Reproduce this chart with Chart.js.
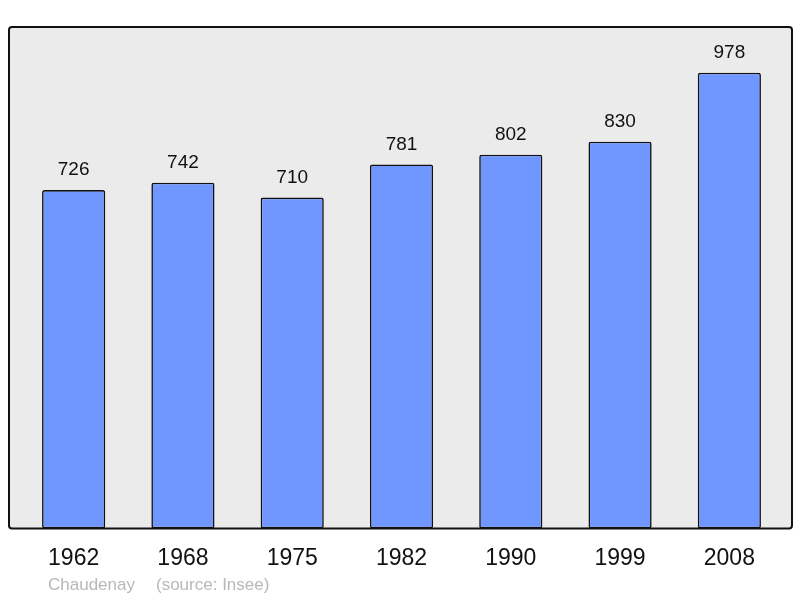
<!DOCTYPE html>
<html><head><meta charset="utf-8">
<script src="https://cdn.jsdelivr.net/npm/chart.js@4/dist/chart.umd.min.js"></script>
<style>html,body{margin:0;padding:0;background:#fff}#w{width:800px;height:598px}</style>
</head><body><div id="w"><canvas id="c"></canvas></div>
<script>
const years = ['1962','1968','1975','1982','1990','1999','2008'];
const population = [726, 742, 710, 781, 802, 830, 978];
const footerName = 'Chaudenay';
const footerSource = '(source: Insee)';

const framePlugin = {
  id: 'frame',
  beforeDraw(chart) {
    const {ctx, chartArea: a} = chart;
    ctx.save();
    const x = a.left - 10, y = a.top, w = a.right + 8 - x, h = a.bottom - a.top;
    ctx.beginPath();
    ctx.roundRect(x, y, w, h, 3);
    ctx.fillStyle = '#ebebeb';
    ctx.fill();
    ctx.restore();
  },
  afterDatasetsDraw(chart) {
    const {ctx, chartArea: a} = chart;
    ctx.save();
    const x = a.left - 10, y = a.top, w = a.right + 8 - x, h = a.bottom - a.top;
    ctx.beginPath();
    ctx.roundRect(x, y, w, h, 3);
    ctx.lineWidth = 2;
    ctx.strokeStyle = '#111';
    ctx.stroke();
    ctx.font = '19px "Liberation Sans", Arial, sans-serif';
    ctx.fillStyle = '#111';
    ctx.textAlign = 'center';
    ctx.textBaseline = 'middle';
    const meta = chart.getDatasetMeta(0);
    meta.data.forEach((bar, i) => {
      ctx.fillText(String(chart.data.datasets[0].data[i]), bar.x, bar.y - 20);
    });
    ctx.font = '17px "Liberation Sans", Arial, sans-serif';
    ctx.fillStyle = '#b8b8b8';
    ctx.textAlign = 'left';
    ctx.fillText(footerName, 48, 585);
    ctx.fillText(footerSource, 156, 585);
    ctx.restore();
  }
};

new Chart(document.getElementById('c'), {
  type: 'bar',
  data: {
    labels: years,
    datasets: [{
      data: population,
      backgroundColor: '#7096ff',
      borderColor: '#111',
      borderWidth: 1.6,
      borderRadius: 2,
      borderSkipped: false,
      barPercentage: 0.578,
      categoryPercentage: 1
    }]
  },
  options: {
    responsive: true,
    maintainAspectRatio: false,
    animation: false,
    devicePixelRatio: 1,
    layout: { padding: { left: 19, right: 16, top: 27, bottom: 18 } },
    plugins: { legend: { display: false }, tooltip: { enabled: false } },
    scales: {
      x: {
        grid: { display: false },
        border: { display: false },
        ticks: { color: '#111', font: { size: 23, family: '"Liberation Sans", Arial, sans-serif' }, padding: 8 }
      },
      y: { display: false, min: 0, max: 1076 }
    }
  },
  plugins: [framePlugin]
});
</script></body></html>
